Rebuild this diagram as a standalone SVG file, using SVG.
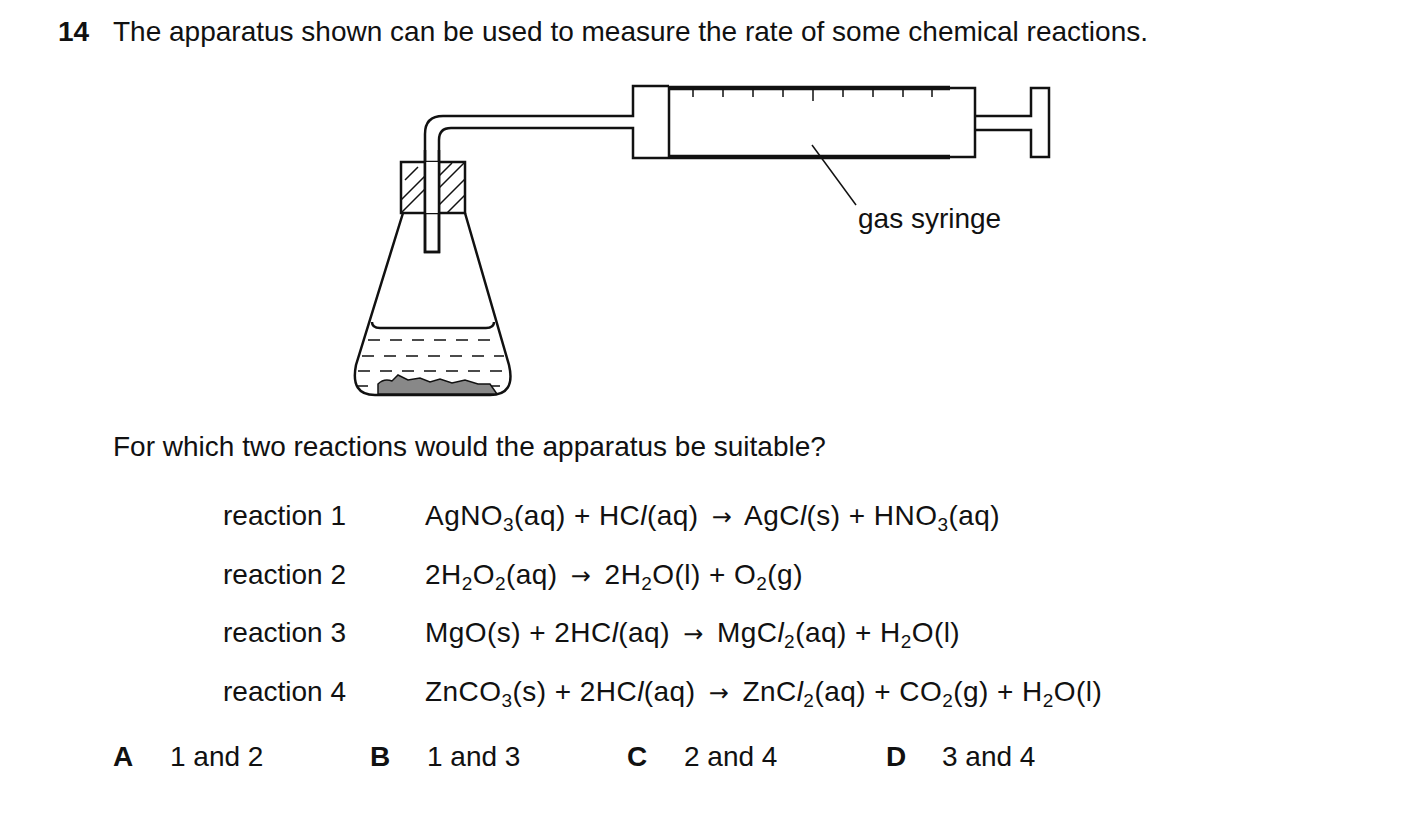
<svg xmlns="http://www.w3.org/2000/svg" width="1403" height="823" viewBox="0 0 1403 823">
<style>
text{font-family:"Liberation Sans",Arial,sans-serif;font-size:28px;fill:#111}
.b{font-weight:bold}
.ln{fill:none;stroke:#111;stroke-width:2.5}
.th{fill:none;stroke:#111;stroke-width:1.5}
.s{font-size:19px}
.a{font-family:"DejaVu Sans",sans-serif;font-size:24px}
.eq{letter-spacing:0.45px}
</style>
<rect width="1403" height="823" fill="#fff"/>
<text x="58" y="41" class="b">14</text>
<text x="113" y="41">The apparatus shown can be used to measure the rate of some chemical reactions.</text>
<g id="syringe">
<path class="ln" d="M557 116 H633 V86 H669 M557 128 H633 V158 H669"/>
<rect x="669" y="88" width="306" height="69" class="ln"/>
<path d="M669 88 H950 M669 157 H950" stroke="#111" stroke-width="4.5"/>
<path class="ln" d="M975 116 H1031 V88 H1049 V157 H1031 V130 H975"/>
<path class="th" d="M693 88v9M723 88v9M753 88v9M783 88v9M813 88v13M843 88v9M873 88v9M903 88v9M932 88v9"/>
</g>
<g id="tube">
<path class="ln" d="M557 116 H443 Q425 116 425 134 V252 H439 V140 Q439 128 451 128 H557"/>
</g>
<g id="flask">
<rect x="401" y="162" width="64" height="51" class="ln"/>
<path class="th" d="M401 200 L425 176 M401 213 L425 189 M405 180 L418 167 M439 188 L465 162 M439 205 L465 179 M447 213 L465 195 M439 176 L452 163"/>
<rect x="425" y="162" width="14" height="51" fill="#fff"/>
<path class="ln" d="M425 150 V252 H439 V150"/>
<path class="ln" d="M403 213 L356 365 Q350 395 375 395 H490 Q516 395 509 365 L465 213"/>
<path class="ln" d="M372 322 Q372 328 380 328 H486 Q494 328 494 322"/>
<path class="th" d="M368 340 H498 M362 356 H504 M358 371 H508 M356 386 H510" stroke-dasharray="12 10"/>
<path d="M378 394 V384 Q384 378 392 381 L398 375 L408 380 L420 378 L430 382 L440 379 L452 383 L465 380 L478 384 L490 384 L497 394 Z" fill="#888" stroke="#111" stroke-width="1.5"/>
</g>
<g id="label">
<line x1="812" y1="145" x2="856" y2="205" class="th"/>
<text x="858" y="228">gas syringe</text>
</g>
<text x="113" y="456">For which two reactions would the apparatus be suitable?</text>
<text x="223" y="525">reaction 1</text>
<text x="223" y="584">reaction 2</text>
<text x="223" y="642">reaction 3</text>
<text x="223" y="701">reaction 4</text>
<text x="425" y="525" class="eq">AgNO<tspan class="s" dy="6">3</tspan><tspan dy="-6">(aq) + HC</tspan><tspan font-style="italic">l</tspan>(aq) <tspan class="a" dx="5">→</tspan><tspan dx="5"> AgC</tspan><tspan font-style="italic">l</tspan>(s) + HNO<tspan class="s" dy="6">3</tspan><tspan dy="-6">(aq)</tspan></text>
<text x="425" y="584" class="eq">2H<tspan class="s" dy="6">2</tspan><tspan dy="-6">O</tspan><tspan class="s" dy="6">2</tspan><tspan dy="-6">(aq) </tspan><tspan class="a" dx="5">→</tspan><tspan dx="5"> 2H</tspan><tspan class="s" dy="6">2</tspan><tspan dy="-6">O(l) + O</tspan><tspan class="s" dy="6">2</tspan><tspan dy="-6">(g)</tspan></text>
<text x="425" y="642" class="eq">MgO(s) + 2HC<tspan font-style="italic">l</tspan>(aq) <tspan class="a" dx="5">→</tspan><tspan dx="5"> MgC</tspan><tspan font-style="italic">l</tspan><tspan class="s" dy="6">2</tspan><tspan dy="-6">(aq) + H</tspan><tspan class="s" dy="6">2</tspan><tspan dy="-6">O(l)</tspan></text>
<text x="425" y="701" class="eq">ZnCO<tspan class="s" dy="6">3</tspan><tspan dy="-6">(s) + 2HC</tspan><tspan font-style="italic">l</tspan>(aq) <tspan class="a" dx="5">→</tspan><tspan dx="5"> ZnC</tspan><tspan font-style="italic">l</tspan><tspan class="s" dy="6">2</tspan><tspan dy="-6">(aq) + CO</tspan><tspan class="s" dy="6">2</tspan><tspan dy="-6">(g) + H</tspan><tspan class="s" dy="6">2</tspan><tspan dy="-6">O(l)</tspan></text>
<text x="113" y="766" class="b">A</text><text x="170" y="766">1 and 2</text>
<text x="370" y="766" class="b">B</text><text x="427" y="766">1 and 3</text>
<text x="627" y="766" class="b">C</text><text x="684" y="766">2 and 4</text>
<text x="886" y="766" class="b">D</text><text x="942" y="766">3 and 4</text>
</svg>
